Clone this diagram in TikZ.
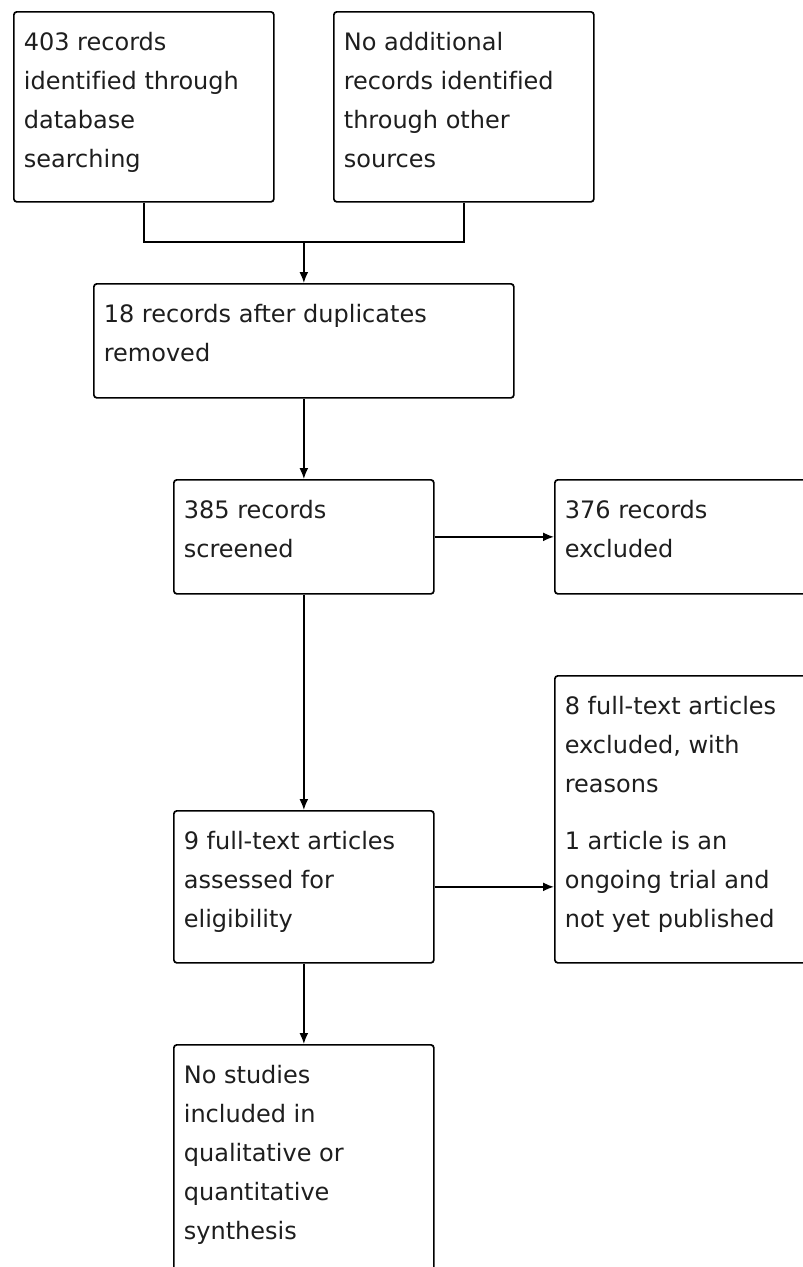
\documentclass[tikz,border=0pt]{standalone}
\usepackage{fontspec}
\setmainfont{DejaVu Sans}[Ligatures=NoCommon]
\usetikzlibrary{arrows.meta}
\newcommand{\boxtext}[3]{\parbox[c][#2][t]{#1}{\raggedright\rule{0pt}{39pt}#3}}
\begin{document}
\begin{tikzpicture}[x=1pt, y=-1pt,
  every node/.style={font=\fontsize{24}{39}\selectfont, text=flowtext},
  flowbox/.style={draw=black, line width=1.7pt, rounded corners=3pt, fill=white,
    inner xsep=10pt, inner ysep=0pt, anchor=north west},
  flowarrow/.style={line width=1.7pt, -{Latex[length=11pt,width=9pt]}},
  flowline/.style={line width=1.7pt}]
\definecolor{flowtext}{RGB}{30,30,30}
\useasboundingbox[fill=white] (0,0) rectangle (803,1267);
% Identification
\node[flowbox] (dbsearch) at (13,11) {\boxtext{240pt}{190pt}{403 records\\identified through\\database\\searching}};
\node[flowbox] (othersrc) at (333,11) {\boxtext{240pt}{190pt}{No additional\\records identified\\through other\\sources}};
% Screening
\node[flowbox] (dedup) at (93,283) {\boxtext{400pt}{114pt}{18 records after duplicates\\removed}};
\node[flowbox] (screened) at (173,479) {\boxtext{240pt}{114pt}{385 records\\screened}};
\node[flowbox] (excluded) at (554,479) {\boxtext{240pt}{114pt}{376 records\\excluded}};
% Eligibility
\node[flowbox] (ftexcl) at (554,675) {\boxtext{240pt}{287pt}{8 full-text articles\\excluded, with\\reasons\par\vspace{18pt}1 article is an\\ongoing trial and\\not yet published}};
\node[flowbox] (fulltext) at (173,810) {\boxtext{240pt}{152pt}{9 full-text articles\\assessed for\\eligibility}};
% Included
\node[flowbox] (included) at (173,1044) {\boxtext{240pt}{260pt}{No studies\\included in\\qualitative or\\quantitative\\synthesis}};
% Connectors
\coordinate (merge) at (dedup.north |- {(0,242)});
\draw[flowline] (dbsearch.south) |- (merge) -| (othersrc.south);
\draw[flowarrow] (merge) -- (dedup.north);
\draw[flowarrow] (dedup.south) -- (screened.north);
\draw[flowarrow] (screened.east) -- (screened.east -| excluded.west);
\draw[flowarrow] (screened.south) -- (fulltext.north);
\draw[flowarrow] (fulltext.east) -- (fulltext.east -| ftexcl.west);
\draw[flowarrow] (fulltext.south) -- (included.north);
\end{tikzpicture}
\end{document}
